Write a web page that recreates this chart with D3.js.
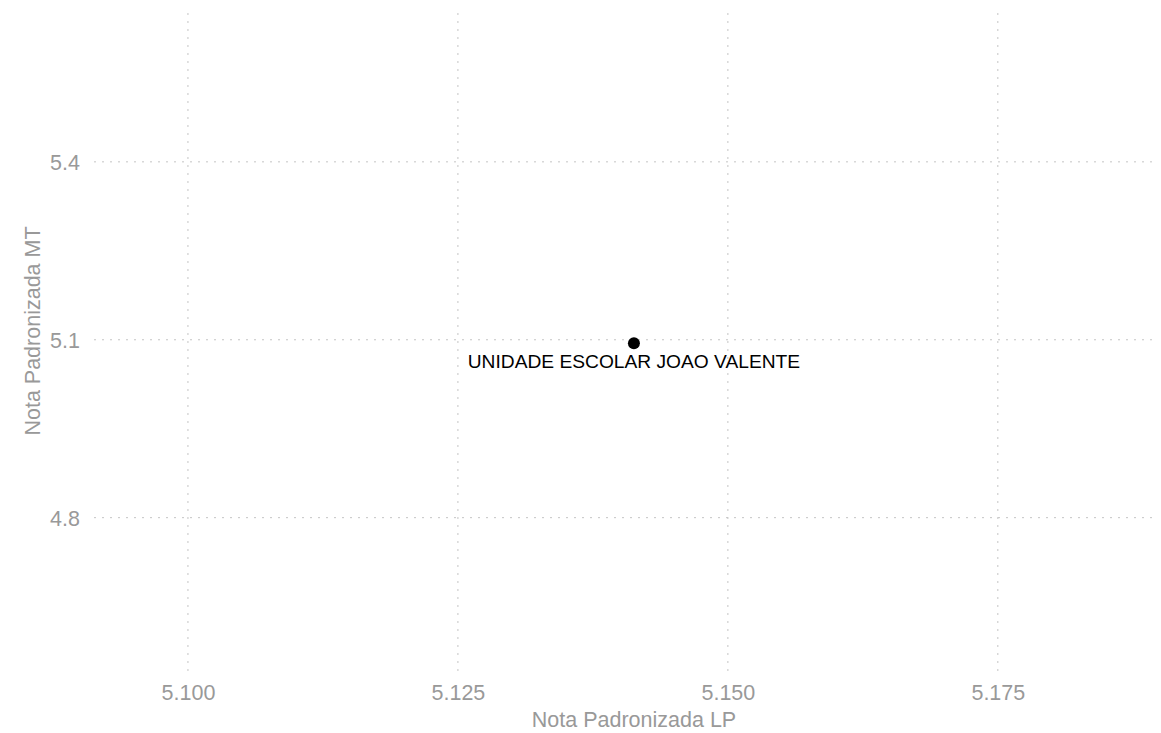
<!DOCTYPE html>
<html>
<head>
<meta charset="utf-8">
<script src="https://cdn.jsdelivr.net/npm/d3@7"></script>
<style>
  html, body { margin: 0; padding: 0; background: #fff; }
  svg { display: block; font-family: "Liberation Sans", Arial, Helvetica, sans-serif; }
</style>
</head>
<body>
<svg id="chart" width="1161" height="733"></svg>
<script>
// Data
const schools = ["UNIDADE ESCOLAR JOAO VALENTE"];
const notaLP = [5.1413];
const notaMT = [5.094];
const xTicks = [5.100, 5.125, 5.150, 5.175];
const yTicks = [4.8, 5.1, 5.4];
const xDomain = [5.0913, 5.1896];
const yDomain = [4.533, 5.651];

const W = 1161, H = 733;
const margin = { left: 94, right: 5.5, top: 13, bottom: 57 };
const svg = d3.select("#chart");

const x = d3.scaleLinear().domain(xDomain).range([margin.left, W - margin.right]);
const y = d3.scaleLinear().domain(yDomain).range([H - margin.bottom, margin.top]);

const gridColor = "#c4c4c4";
const textGray = "#999999";
const grayFont = 21.5;

// Grid lines
svg.append("g").selectAll("line").data(xTicks).join("line")
  .attr("x1", d => x(d)).attr("x2", d => x(d))
  .attr("y1", margin.top).attr("y2", H - margin.bottom)
  .attr("stroke", gridColor).attr("stroke-width", 1)
  .attr("stroke-dasharray", "2,6");
svg.append("g").selectAll("line").data(yTicks).join("line")
  .attr("x1", margin.left).attr("x2", W - margin.right)
  .attr("y1", d => y(d)).attr("y2", d => y(d))
  .attr("stroke", gridColor).attr("stroke-width", 1)
  .attr("stroke-dasharray", "2,6");

// Axes (labels only)
const xAxis = d3.axisBottom(x).tickValues(xTicks).tickFormat(d3.format(".3f")).tickSize(0).tickPadding(0);
const gx = svg.append("g").attr("transform", `translate(0,${H - margin.bottom})`).call(xAxis);
gx.select(".domain").remove();
gx.selectAll("text").attr("fill", textGray).attr("font-size", grayFont)
  .attr("dy", null).attr("y", 24)
  .style("font-family", "'Liberation Sans', Arial, sans-serif");

const yAxis = d3.axisLeft(y).tickValues(yTicks).tickFormat(d3.format(".1f")).tickSize(0).tickPadding(0);
const gy = svg.append("g").attr("transform", `translate(${margin.left},0)`).call(yAxis);
gy.select(".domain").remove();
gy.selectAll("text").attr("fill", textGray).attr("font-size", grayFont)
  .attr("x", -14).attr("dy", "0.35em")
  .style("font-family", "'Liberation Sans', Arial, sans-serif");

// Axis titles
svg.append("text").attr("x", 634).attr("y", 727)
  .attr("text-anchor", "middle").attr("fill", textGray).attr("font-size", grayFont)
  .text("Nota Padronizada LP");
svg.append("text")
  .attr("transform", `translate(40,331) rotate(-90)`)
  .attr("text-anchor", "middle").attr("fill", textGray).attr("font-size", grayFont)
  .text("Nota Padronizada MT");

// Points
const data = schools.map((s, i) => ({ name: s, lp: notaLP[i], mt: notaMT[i] }));
svg.append("g").selectAll("circle").data(data).join("circle")
  .attr("cx", d => x(d.lp)).attr("cy", d => y(d.mt)).attr("r", 6)
  .attr("fill", "#000");
svg.append("g").selectAll("text").data(data).join("text")
  .attr("x", d => x(d.lp)).attr("y", d => y(d.mt) + 25)
  .attr("text-anchor", "middle").attr("fill", "#000").attr("font-size", 19.2)
  .text(d => d.name);
</script>
</body>
</html>
